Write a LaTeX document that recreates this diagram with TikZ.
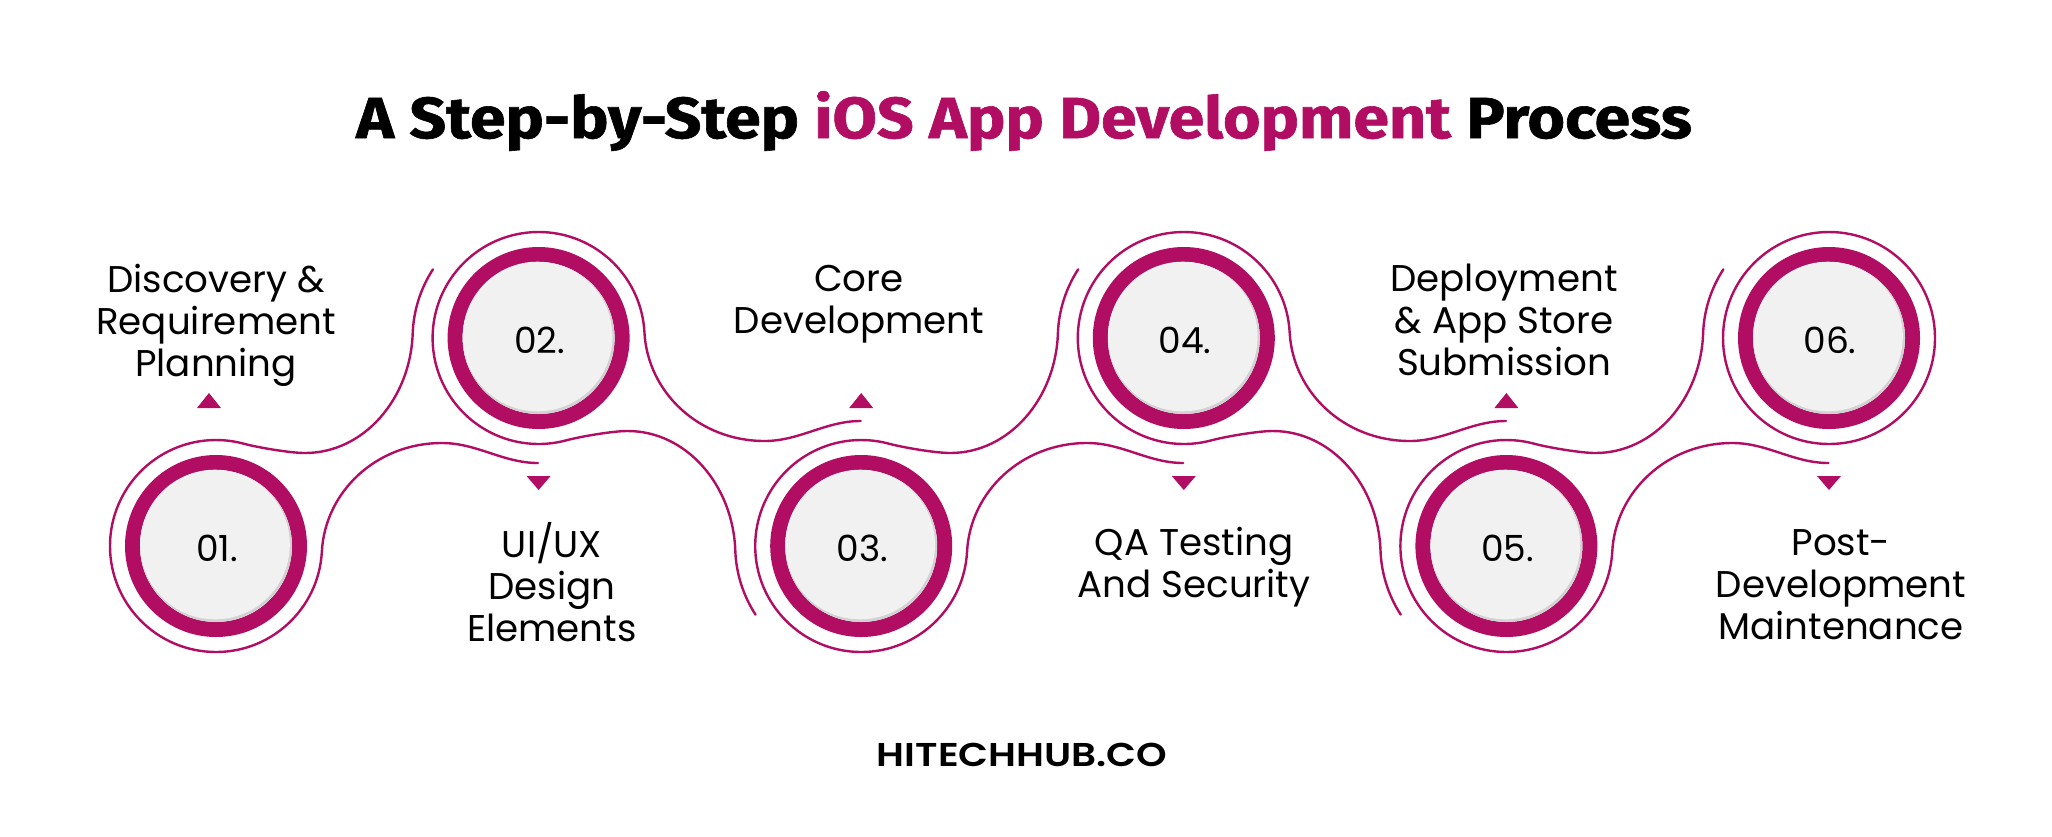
\documentclass[tikz,border=0pt]{standalone}
\usepackage{fontspec}
\setmainfont{Poppins}
\newfontfamily\titlefont{Fira Sans}
\newfontfamily\footfont{Poppins}[UprightFont={* SemiBold}]
\usetikzlibrary{calc}
\definecolor{mag}{HTML}{B00D63}
\definecolor{innergray}{HTML}{F1F1F1}
\definecolor{shadowgray}{HTML}{D2D2D2}
\tikzset{
  thinline/.style={draw=mag, line width=2.4pt, line cap=round},
  ringline/.style={draw=mag, line width=15pt},
  numtext/.style={font=\fontsize{36}{40}\selectfont, text=black},
  labeltext/.style={font=\fontsize{37.2}{42}\selectfont, align=center, text=black},
  tri/.style={fill=mag}
}
\newcommand\ringA{(322,-83) .. controls (287,-83) and (261,-103) .. (226,-103)
  .. controls (160,-103) and (109,-54) .. (105.85,5.55)
  arc[start angle=3,end angle=285,radius=106]
  .. controls (41.4,-98.6) and (74,-93) .. (89,-93)
  .. controls (148,-93) and (194.4,-147.4) .. (196.68,-212.4)
  arc[start angle=182,end angle=213,radius=126]}
\begin{document}
\begin{tikzpicture}[x=1pt,y=-1pt]
\useasboundingbox (0,0) rectangle (2052,836);
\fill[white] (0,0) rectangle (2052,836);
% centres
\coordinate (c1) at (216,546);
\coordinate (c2) at (538.6,338);
\coordinate (c3) at (861.2,546);
\coordinate (c4) at (1183.8,338);
\coordinate (c5) at (1506.4,546);
\coordinate (c6) at (1829,338);
% thin outer lines
\begin{scope}[shift={(c1)}] \draw[thinline] \ringA; \end{scope}
\begin{scope}[shift={(c3)}] \draw[thinline] \ringA; \end{scope}
\begin{scope}[shift={(c5)}] \draw[thinline] \ringA; \end{scope}
\begin{scope}[shift={(c2)},yscale=-1] \draw[thinline] \ringA; \end{scope}
\begin{scope}[shift={(c4)},yscale=-1] \draw[thinline] \ringA; \end{scope}
\draw[thinline] (c6) circle[radius=106];
% rings
\foreach \c/\t in {c1/01.,c2/02.,c3/03.,c4/04.,c5/05.,c6/06.}{
  \draw[ringline] (\c) circle[radius=83.5];
  \fill[shadowgray] (\c) circle[radius=76];
  \fill[innergray] ($(\c)+(-1,-1.5)$) circle[radius=74.8];
  \node[numtext] (n\c) at ($(\c)+(1,2)$) {\t};
}
% triangles
\coordinate (t1) at (209,546);
\foreach \c in {t1,c3,c5}{
  \fill[tri] ($(\c)+(-12,-138)$) -- ($(\c)+(12,-138)$) -- ($(\c)+(0,-153)$) -- cycle;
}
\foreach \c in {c2,c4,c6}{
  \fill[tri] ($(\c)+(-12,138)$) -- ($(\c)+(12,138)$) -- ($(\c)+(0,152)$) -- cycle;
}
% labels
\node[labeltext] (l1) at (216,325) {Discovery \&\\Requirement\\Planning};
\node[labeltext] (l2) at (552,582) {UI/UX\\Design\\Elements};
\node[labeltext] (l3) at (859,304) {Core\\Development};
\node[labeltext] (l4) at (1194,567) {QA Testing\\And Security};
\node[labeltext] (l5) at (1504,320) {Deployment\\\& App Store\\Submission};
\node[labeltext] (l6) at (1841,585) {Post-\\Development\\Maintenance};
% title
\node[font=\titlefont\bfseries\addfontfeatures{FakeBold=1}\fontsize{58}{64}\selectfont] (title) at (1024,121)
  {\scalebox{1.11}[1]{A Step-by-Step \textcolor{mag}{iOS App Development} Process}};
\node[font=\footfont\fontsize{33}{36}\selectfont] (foot) at (1022,755) {\scalebox{1.18}[1]{HITECHHUB.CO}};
\end{tikzpicture}
\end{document}
